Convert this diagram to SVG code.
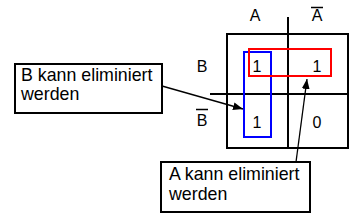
<svg xmlns="http://www.w3.org/2000/svg" width="363" height="224" viewBox="0 0 363 224">
<style>
text{font-family:"Liberation Sans",Arial,sans-serif;fill:#000}
.lbl{font-size:16px}
.box{font-size:17.8px}
.grid{stroke:#000;stroke-width:2;fill:none}
.bar{stroke:#000;stroke-width:1.5}
.conn{stroke:#000;stroke-width:1.3;fill:none}
</style>
<defs>
<marker id="ah" markerWidth="10" markerHeight="8" refX="10" refY="4" orient="auto" markerUnits="userSpaceOnUse">
<path d="M0,0 L10,4 L0,8 Z" fill="#000"/>
</marker>
</defs>
<rect width="363" height="224" fill="#fff"/>
<g id="kmap">
<rect class="grid" x="227" y="34" width="121" height="114"/>
<line class="grid" x1="288" y1="17" x2="288" y2="148"/>
<line class="grid" x1="210" y1="94" x2="348" y2="94"/>
<text class="lbl" x="255" y="21" text-anchor="middle">A</text>
<text class="lbl" x="317" y="21" text-anchor="middle">A</text>
<line class="bar" x1="311" y1="7.5" x2="323" y2="7.5"/>
<text class="lbl" x="202" y="72" text-anchor="middle">B</text>
<text class="lbl" x="202" y="126" text-anchor="middle">B</text>
<line class="bar" x1="196" y1="109.5" x2="208" y2="109.5"/>
<text class="lbl" x="257" y="72" text-anchor="middle">1</text>
<text class="lbl" x="317" y="72" text-anchor="middle">1</text>
<text class="lbl" x="257" y="128" text-anchor="middle">1</text>
<text class="lbl" x="317" y="128" text-anchor="middle">0</text>
</g>
<g id="group-blue">
<rect x="244" y="52" width="27" height="85" fill="none" stroke="#0000ff" stroke-width="2"/>
</g>
<g id="group-red">
<rect x="249" y="49" width="82" height="27" fill="none" stroke="#ff0000" stroke-width="2"/>
</g>
<g id="note-b">
<rect x="15" y="64" width="147" height="49" fill="#fff" stroke="#000" stroke-width="2"/>
<text class="box" x="21" y="81">B kann eliminiert</text>
<text class="box" x="21" y="100">werden</text>
</g>
<g id="note-a">
<rect x="161" y="162" width="149" height="50" fill="#fff" stroke="#000" stroke-width="2"/>
<text class="box" x="169" y="180">A kann eliminiert</text>
<text class="box" x="169" y="200">werden</text>
</g>
<g id="connectors">
<line class="conn" x1="162" y1="86" x2="243" y2="109" marker-end="url(#ah)"/>
<line class="conn" x1="296" y1="162" x2="307" y2="79" marker-end="url(#ah)"/>
</g>
</svg>
